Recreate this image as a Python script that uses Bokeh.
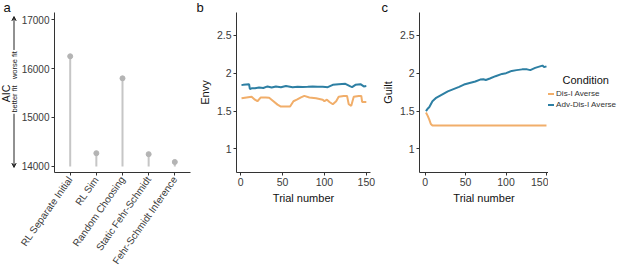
import math
from bokeh.plotting import figure
from bokeh.layouts import row
from bokeh.models import (FactorRange, Range1d, Label, Arrow, VeeHead, Legend,
                          LegendItem, FixedTicker)
from bokeh.embed import file_html
from bokeh.resources import INLINE

# ---------------- data ----------------
models = ["RL Separate Initial", "RL Sim", "Random Choosing",
          "Static Fehr-Schmidt", "Fehr-Schmidt Inference"]
aic = [16250, 14270, 15800, 14250, 14090]
aic_base = 14000
aic_ticks = [14000, 15000, 16000, 17000]

envy_adv_t = [1, 3, 10, 11, 13, 17, 22, 27, 32, 37, 42, 48, 54, 62, 68, 74, 80,
              86, 92, 98, 104, 110, 117, 125, 131, 133, 137, 143, 147, 150]
envy_adv_v = [1.845, 1.846, 1.855, 1.79, 1.80, 1.80, 1.81, 1.805, 1.825, 1.81,
              1.825, 1.815, 1.83, 1.815, 1.82, 1.816, 1.82, 1.825, 1.82, 1.82,
              1.815, 1.846, 1.855, 1.86, 1.825, 1.816, 1.846, 1.855, 1.825, 1.83]
envy_dis_t = [1, 7, 13, 17, 20, 24, 30, 34, 38, 44, 48, 59, 63, 67, 72, 76, 82,
              90, 98, 100, 103, 106, 110, 114, 117, 123, 127, 129, 132, 135, 141,
              144, 145, 150]
envy_dis_v = [1.67, 1.68, 1.69, 1.65, 1.63, 1.68, 1.68, 1.675, 1.64, 1.585,
              1.56, 1.56, 1.63, 1.65, 1.68, 1.70, 1.68, 1.67, 1.65, 1.63, 1.65,
              1.62, 1.59, 1.63, 1.69, 1.70, 1.70, 1.59, 1.57, 1.69, 1.70, 1.70,
              1.62, 1.62]

guilt_adv_t = [1, 3, 5, 9, 13, 18, 23, 28, 35, 42, 48, 55, 62, 68, 72, 75, 80,
               87, 95, 100, 107, 113, 120, 126, 130, 136, 142, 145, 147, 150]
guilt_adv_v = [1.50, 1.53, 1.55, 1.63, 1.67, 1.70, 1.73, 1.76, 1.79, 1.82, 1.85,
               1.87, 1.89, 1.915, 1.92, 1.91, 1.93, 1.96, 1.99, 2.00, 2.03, 2.04,
               2.05, 2.05, 2.04, 2.07, 2.09, 2.10, 2.08, 2.09]
guilt_dis_t = [1, 3, 5, 7, 9, 150]
guilt_dis_v = [1.48, 1.44, 1.39, 1.33, 1.31, 1.31]

trial_ticks = [0, 50, 100, 150]
score_ticks = [1.0, 1.5, 2.0, 2.5]
conditions = ["Dis-I Averse", "Adv-Dis-I Averse"]
legend_title = "Condition"

# ---------------- style ----------------
FONT = "Liberation Sans"
ORANGE = "#F1AE6A"
BLUE = "#2D7FA3"
TICK_COL = "#3a3a3a"
AX_COL = "#333333"
H = 273
TOP = 12
BOTTOM = 101


def style(p, tick_size="10.5px"):
    p.grid.visible = False
    p.outline_line_color = None
    p.background_fill_color = "white"
    p.border_fill_color = "white"
    for ax in (p.xaxis[0], p.yaxis[0]):
        ax.axis_line_color = AX_COL
        ax.major_tick_line_color = AX_COL
        ax.major_tick_out = 3
        ax.major_tick_in = 0
        ax.minor_tick_line_color = None
        ax.major_label_text_font = FONT
        ax.major_label_text_font_size = tick_size
        ax.major_label_text_color = TICK_COL
        ax.axis_label_text_font = FONT
        ax.axis_label_text_font_size = "11px"
        ax.axis_label_text_font_style = "normal"
        ax.axis_label_text_color = "#111111"
        ax.major_label_standoff = 2
        ax.axis_label_standoff = 3


def blank(p):
    p.grid.visible = False
    p.outline_line_color = None
    p.background_fill_color = "white"
    p.border_fill_color = "white"


def letter(p, txt, offset):
    p.title.text = txt
    p.title.align = "left"
    p.title.offset = offset
    p.title.text_font = FONT
    p.title.text_font_size = "13px"
    p.title.text_font_style = "normal"
    p.title.text_color = "#111111"
    p.title.standoff = -5


# ---------------- panel a ----------------
pa = figure(width=177, height=H, x_range=FactorRange(factors=models, range_padding=0.04),
            y_range=Range1d(13875, 17145), output_backend="svg",
            toolbar_location=None, min_border_left=34, min_border_right=5,
            min_border_top=TOP, min_border_bottom=BOTTOM)
pa.segment(x0=models, y0=[aic_base] * len(models), x1=models, y1=aic,
           line_color="#C6C6C6", line_width=2)
pa.scatter(x=models, y=aic, size=5, fill_color="#B4B4B4", line_color="#B4B4B4")
style(pa, "10px")
pa.yaxis.ticker = FixedTicker(ticks=aic_ticks)
pa.xaxis.major_label_orientation = math.radians(55)

# left strip of panel a: panel letter, "AIC" and better/worse fit arrows
la = figure(width=18, height=H, x_range=Range1d(0, 18), y_range=pa.y_range,
            output_backend="svg", toolbar_location=None, x_axis_location=None,
            y_axis_location=None, min_border_left=0, min_border_right=0,
            min_border_top=TOP, min_border_bottom=BOTTOM)
blank(la)
la.add_layout(Label(x=5.5, y=15490, text="AIC", angle=math.pi / 2,
                    text_align="center", text_baseline="middle",
                    text_font=FONT, text_font_size="10.5px", text_color="#111111"))
la.add_layout(Label(x=14, y=16069, text="worse fit", angle=math.pi / 2,
                    text_align="center", text_baseline="middle",
                    text_font=FONT, text_font_size="7.5px", text_color="#222222"))
la.add_layout(Label(x=14, y=15376, text="better fit", angle=math.pi / 2,
                    text_align="center", text_baseline="middle",
                    text_font=FONT, text_font_size="7.5px", text_color="#222222"))
la.add_layout(Arrow(x_start=13.5, y_start=16379, x_end=13.5, y_end=17062,
                    line_width=1, line_color="#222222",
                    end=VeeHead(size=4, line_color="#222222", line_width=1,
                                fill_color="#222222")))
la.add_layout(Arrow(x_start=13.5, y_start=15076, x_end=13.5, y_end=13979,
                    line_width=1, line_color="#222222",
                    end=VeeHead(size=4, line_color="#222222", line_width=1,
                                fill_color="#222222")))
letter(la, "a", 3)

# ---------------- panel b ----------------
pb = figure(width=183, height=H, x_range=Range1d(-5, 155), y_range=Range1d(0.69, 2.8),
            output_backend="svg", toolbar_location=None, min_border_left=40,
            min_border_right=8, min_border_top=TOP, min_border_bottom=BOTTOM)
pb.line(envy_dis_t, envy_dis_v, line_color=ORANGE, line_width=2)
pb.line(envy_adv_t, envy_adv_v, line_color=BLUE, line_width=2)
style(pb)
pb.xaxis.ticker = FixedTicker(ticks=trial_ticks)
pb.yaxis.ticker = FixedTicker(ticks=score_ticks)
pb.xaxis.axis_label = "Trial number"
pb.yaxis.axis_label = "Envy"
letter(pb, "b", -40)

# ---------------- panel c ----------------
pc = figure(width=170, height=H, x_range=Range1d(-7, 152.5), y_range=Range1d(0.69, 2.8),
            output_backend="svg", toolbar_location=None, min_border_left=35,
            min_border_right=0, min_border_top=TOP, min_border_bottom=BOTTOM)
pc.line(guilt_dis_t, guilt_dis_v, line_color=ORANGE, line_width=2)
pc.line(guilt_adv_t, guilt_adv_v, line_color=BLUE, line_width=2)
style(pc)
pc.xaxis.ticker = FixedTicker(ticks=trial_ticks)
pc.yaxis.ticker = FixedTicker(ticks=score_ticks)
pc.xaxis.axis_label = "Trial number"
pc.yaxis.axis_label = "Guilt"
letter(pc, "c", -38)

# legend strip: key lines come from the same series, which fall outside
# this strip's visible range, so only their legend keys show
lc = figure(width=69, height=H, x_range=Range1d(0, 69), y_range=Range1d(172, 12),
            output_backend="svg", toolbar_location=None, x_axis_location=None,
            y_axis_location=None, min_border_left=0, min_border_right=0,
            min_border_top=TOP, min_border_bottom=BOTTOM)
blank(lc)
k_dis = lc.line(guilt_dis_t, guilt_dis_v, line_color=ORANGE, line_width=2)
k_adv = lc.line(guilt_adv_t, guilt_adv_v, line_color=BLUE, line_width=2)
legend = Legend(items=[LegendItem(label=conditions[0], renderers=[k_dis]),
                       LegendItem(label=conditions[1], renderers=[k_adv])],
                location=(-2, 62), orientation="vertical",
                label_text_font=FONT, label_text_font_size="8.1px",
                label_text_color="#333333", glyph_width=8, glyph_height=11,
                label_height=11, label_standoff=2, spacing=0, padding=0, margin=0,
                background_fill_alpha=0, border_line_color=None)
lc.add_layout(legend)
lc.add_layout(Label(x=14, y=79, text=legend_title, text_baseline="middle",
                    text_font=FONT, text_font_size="11px", text_color="#111111"))

layout = row(la, pa, pb, pc, lc)
open("out.html", "w").write(file_html(layout, INLINE))
